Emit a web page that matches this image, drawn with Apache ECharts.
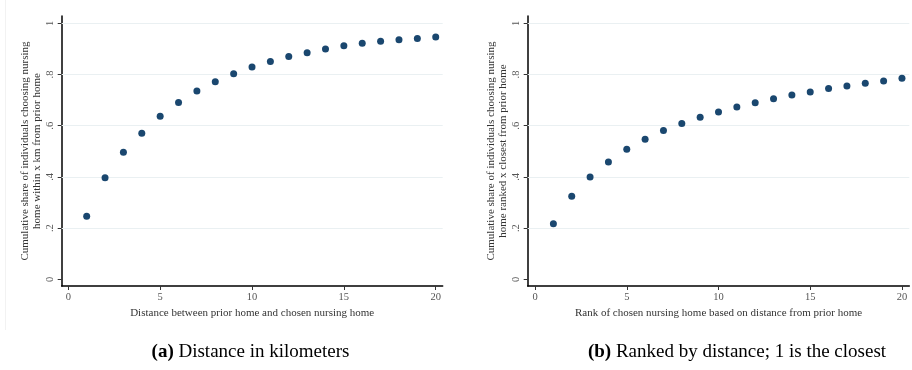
<!DOCTYPE html>
<html>
<head>
<meta charset="utf-8">
<script src="https://cdn.jsdelivr.net/npm/echarts@6/dist/echarts.min.js"></script>
<style>
  html, body { margin: 0; padding: 0; background: #fff; }
  #chart { width: 912px; height: 370px; }
</style>
</head>
<body>
<div id="chart"></div>
<script>
// x positions (distance in km / rank), shared by both panels
const xValues = [1, 2, 3, 4, 5, 6, 7, 8, 9, 10, 11, 12, 13, 14, 15, 16, 17, 18, 19, 20];

// Panel (a): cumulative share within x km
const shareByKm = [0.246, 0.397, 0.496, 0.571, 0.637, 0.691, 0.736, 0.772, 0.803, 0.829,
                   0.851, 0.870, 0.885, 0.900, 0.912, 0.922, 0.930, 0.936, 0.941, 0.946];

// Panel (b): cumulative share among x closest homes
const shareByRank = [0.217, 0.325, 0.400, 0.458, 0.508, 0.547, 0.581, 0.609, 0.633, 0.654,
                     0.673, 0.690, 0.705, 0.720, 0.732, 0.745, 0.755, 0.766, 0.775, 0.785];

const xTicks = [0, 5, 10, 15, 20];
const yTicks = [0, 0.2, 0.4, 0.6, 0.8, 1];
const yGrid = [0.2, 0.4, 0.6, 0.8, 1];

const yTitleA = 'Cumulative share of individuals choosing nursing\nhome within x km from prior home';
const yTitleB = 'Cumulative share of individuals choosing nursing\nhome ranked x closest from prior home';
const xTitleA = 'Distance between prior home and chosen nursing home';
const xTitleB = 'Rank of chosen nursing home based on distance from prior home';
const captionA = ['(a)', ' Distance in kilometers'];
const captionB = ['(b)', ' Ranked by distance; 1 is the closest'];

const SERIF = '"Liberation Serif", "DejaVu Serif", serif';
const MARK = '#1a476f';

function fmtY(v) {
  if (v === 0) return '0';
  if (v === 1) return '1';
  return String(+v.toFixed(1)).replace(/^0/, '');
}

function makeX(idx, min, max, title) {
  return {
    gridIndex: idx, type: 'value', min: min, max: max,
    name: title, nameLocation: 'middle', nameGap: 19,
    nameTextStyle: { fontFamily: SERIF, fontSize: 11, color: '#333' },
    axisLine: { onZero: false, lineStyle: { color: '#000', width: 1.5 } },
    axisTick: { show: true, length: 4, customValues: xTicks, lineStyle: { color: '#333' } },
    axisLabel: { customValues: xTicks, margin: 6, fontFamily: SERIF, fontSize: 10.5, color: '#555' },
    splitLine: { show: false }
  };
}

function makeY(idx, title) {
  return {
    gridIndex: idx, type: 'value', min: -0.026, max: 1.0285,
    name: title, nameLocation: 'middle', nameGap: 19, nameRotate: 90,
    nameTextStyle: { fontFamily: SERIF, fontSize: 11, color: '#333', lineHeight: 11.5 },
    axisLine: { onZero: false, lineStyle: { color: '#000', width: 1.5 } },
    axisTick: { show: true, length: 4, customValues: yTicks, lineStyle: { color: '#333' } },
    axisLabel: { customValues: yTicks, rotate: 90, margin: 6, fontFamily: SERIF, fontSize: 10.5,
                 color: '#555', formatter: fmtY },
    splitLine: { show: false }
  };
}

// horizontal gridlines, kept in their own series so they sit under the markers
function makeGrid(idx) {
  return {
    type: 'line', xAxisIndex: idx, yAxisIndex: idx, data: [], silent: true, z: 1,
    markLine: {
      silent: true, symbol: 'none', animation: false,
      label: { show: false },
      lineStyle: { color: '#eaf0f2', width: 1, type: 'solid' },
      data: yGrid.map(v => ({ yAxis: v }))
    }
  };
}

function makeSeries(idx, values) {
  return {
    type: 'scatter', xAxisIndex: idx, yAxisIndex: idx,
    data: xValues.map((x, i) => [x, values[i]]),
    symbolSize: 7,
    itemStyle: { color: MARK, opacity: 1 },
    silent: true,
    z: 5
  };
}

function caption(x, parts) {
  return {
    type: 'text', x: x, y: 352,
    style: {
      text: '{b|' + parts[0] + '}{n|' + parts[1] + '}',
      align: 'center', verticalAlign: 'middle',
      rich: {
        b: { fontFamily: SERIF, fontSize: 19, fontWeight: 'bold', fill: '#000' },
        n: { fontFamily: SERIF, fontSize: 19, fill: '#000' }
      }
    }
  };
}

const chart = echarts.init(document.getElementById('chart'), null, { renderer: 'canvas' });
chart.setOption({
  animation: false,
  backgroundColor: '#fff',
  grid: [
    { left: 61.7, right: 469.3, top: 16, bottom: 84 },
    { left: 527.7, right: 2.7, top: 16, bottom: 84 }
  ],
  xAxis: [makeX(0, -0.36, 20.38, xTitleA), makeX(1, -0.40, 20.4, xTitleB)],
  yAxis: [makeY(0, yTitleA), makeY(1, yTitleB)],
  series: [makeGrid(0), makeGrid(1), makeSeries(0, shareByKm), makeSeries(1, shareByRank)],
  graphic: [
    { type: 'line', shape: { x1: 5.5, y1: 0, x2: 5.5, y2: 330 }, style: { stroke: '#f2f2f2', lineWidth: 1 } },
    caption(250.5, captionA),
    caption(737, captionB)
  ]
});
</script>
</body>
</html>
